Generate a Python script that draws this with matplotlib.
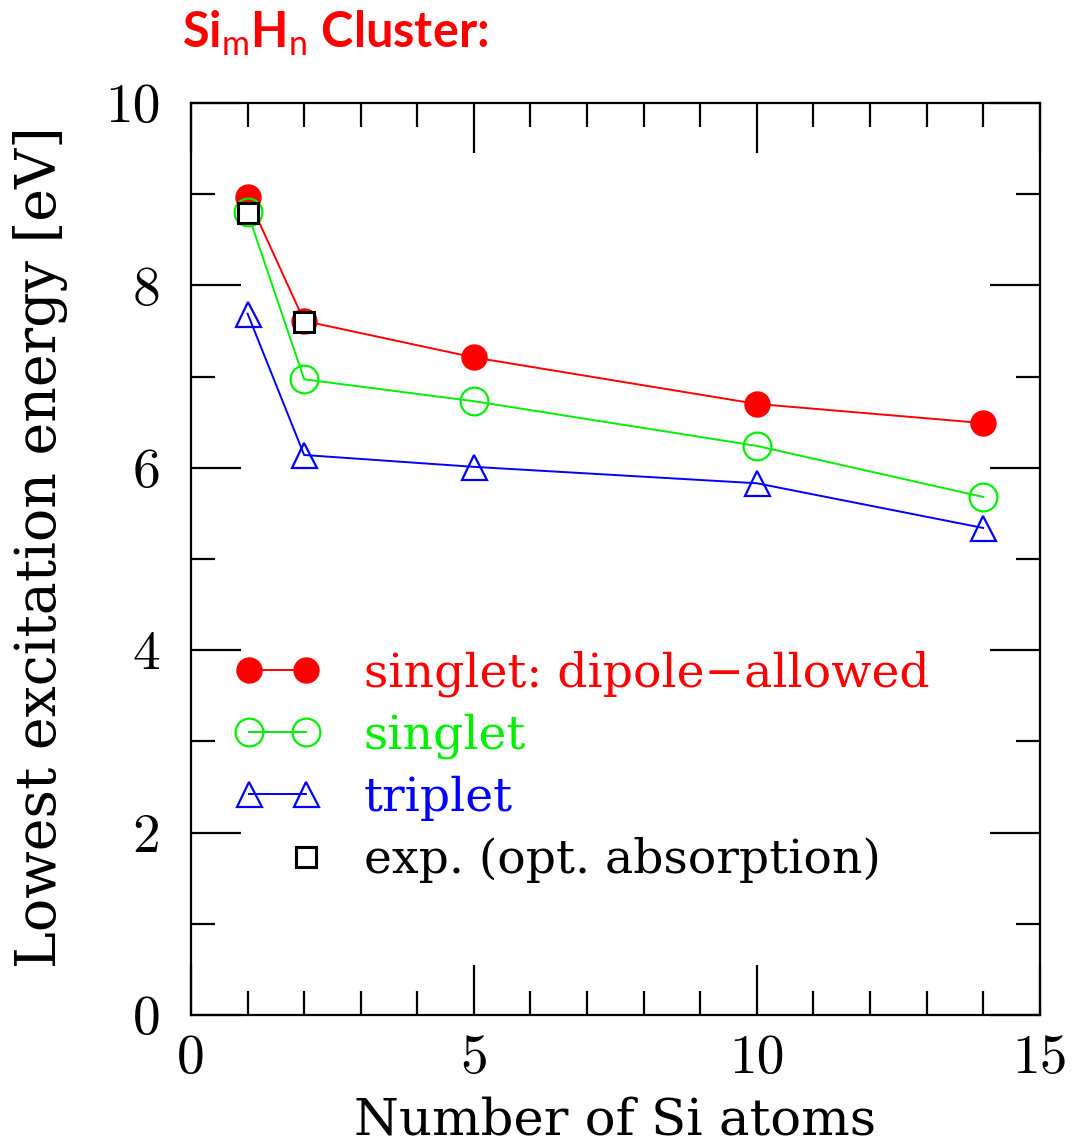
import matplotlib
matplotlib.use("Agg")
import matplotlib.pyplot as plt
from matplotlib.legend_handler import HandlerLine2D
from matplotlib.ticker import MultipleLocator

# lowest excitation energies of Si_mH_n clusters [eV]
n_si = [1, 2, 5, 10, 14]
singlet_dipole = [8.97, 7.61, 7.21, 6.70, 6.49]
singlet = [8.80, 6.97, 6.73, 6.24, 5.68]
triplet = [7.69, 6.14, 6.01, 5.83, 5.34]
exp_n_si = [1, 2]
exp_energy = [8.79, 7.60]


class RightEndMarker(HandlerLine2D):
    # single marker drawn at the right end of the legend handle
    def get_xdata(self, legend, xdescent, ydescent, width, height, fontsize):
        x = -xdescent + width - self._marker_pad * fontsize
        return [x, x], [x]


plt.rcParams['font.family'] = ['DejaVu Serif']
plt.rcParams['mathtext.fontset'] = 'custom'
plt.rcParams['mathtext.rm'] = 'Lato'
plt.rcParams['mathtext.bf'] = 'Lato:bold'
plt.rcParams['axes.linewidth'] = 1.6

green = '#00f000'

fig = plt.figure(figsize=(10.73, 11.48), dpi=100)
ax = fig.add_axes([0.178, 0.1159, 0.791, 0.7944])

l1, = ax.plot(n_si, singlet_dipole, color='red', lw=1.4, marker='o',
              ms=18, mfc='red', mec='red', label='singlet: dipole\u2212allowed')
l2, = ax.plot(n_si, singlet, color=green, lw=1.4, marker='o',
              ms=20, mfc='none', mec=green, mew=1.6, label='singlet')
l3, = ax.plot(n_si, triplet, color='blue', lw=1.4, marker='^',
              ms=18, mfc='none', mec='blue', mew=1.6, label='triplet')
l4, = ax.plot(exp_n_si, exp_energy, ls='none', marker='s',
              ms=15, mfc='white', mec='black', mew=2.2,
              label='exp. (opt. absorption)')

ax.set_xlim(0, 15)
ax.set_ylim(0, 10)
ax.xaxis.set_major_locator(MultipleLocator(5))
ax.xaxis.set_minor_locator(MultipleLocator(1))
ax.yaxis.set_major_locator(MultipleLocator(2))
ax.yaxis.set_minor_locator(MultipleLocator(1))
ax.tick_params(which='both', direction='in', top=True, right=True,
               width=1.6, labelsize=40)
ax.tick_params(which='major', length=36)
ax.tick_params(which='minor', length=17)
ax.tick_params(axis='y', pad=22)
ax.tick_params(axis='x', pad=14)

fig.canvas.draw()
for tick in ax.xaxis.get_major_ticks() + ax.yaxis.get_major_ticks():
    tick.label1.set_fontfamily('cmr10')

ax.set_xlabel('Number of Si atoms', fontsize=37)
ax.xaxis.set_label_coords(0.5, -0.0885)
ax.set_ylabel('Lowest excitation energy [eV]', fontsize=40)
ax.yaxis.set_label_coords(-0.145, 0.513)

leg = ax.legend(handles=[l1, l2, l3, l4], loc='center left',
                bbox_to_anchor=(0.002, 0.272), frameon=False, fontsize=34,
                numpoints=2, handlelength=1.8, handletextpad=0.92,
                labelspacing=0.35,
                handler_map={l4: RightEndMarker()})
for txt, c in zip(leg.get_texts(), ['red', green, 'blue', 'black']):
    txt.set_color(c)

fig.text(0.170, 0.971, r'Si$_\mathrm{m}$H$_\mathrm{n}$ Cluster:', color='red',
         fontsize=35, fontweight='bold', family='Lato', va='center')

fig.savefig('out.png', dpi=100)
